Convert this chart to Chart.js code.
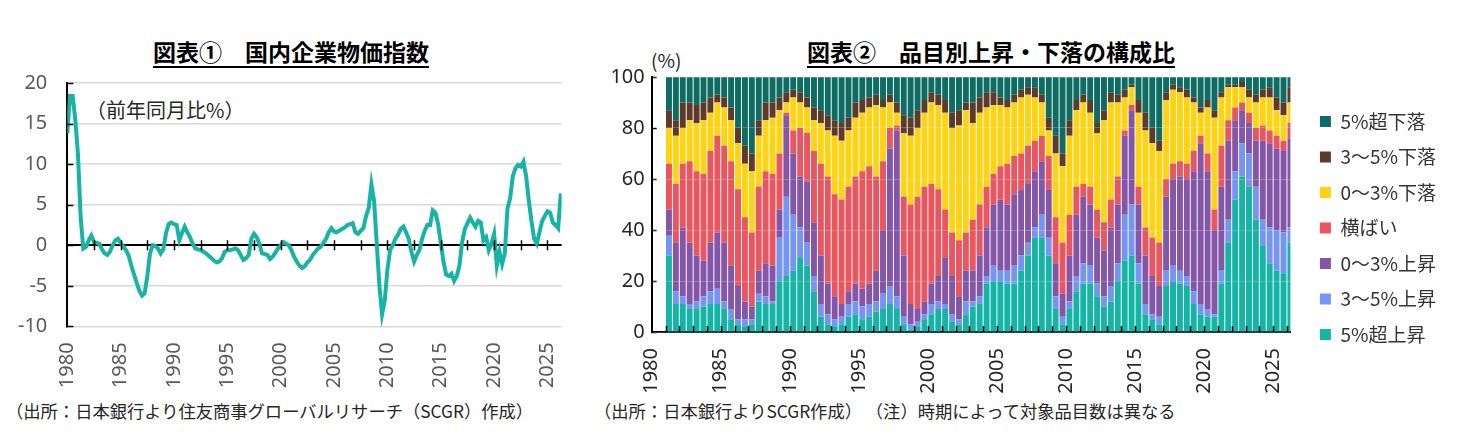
<!DOCTYPE html>
<html><head><meta charset="utf-8">
<script src="https://cdn.jsdelivr.net/npm/chart.js@4.4.0/dist/chart.umd.min.js"></script>
<style>
html,body{margin:0;padding:0;background:#fff;}
body{width:1471px;height:438px;position:relative;overflow:hidden;font-family:"Noto Sans CJK JP",sans-serif;}
.title{position:absolute;top:34px;font-weight:bold;font-size:23px;color:#000;text-decoration:underline;text-underline-offset:5px;text-decoration-thickness:2px;white-space:nowrap;transform:translateX(-50%);}
.note{position:absolute;top:398px;font-size:17.3px;color:#262626;white-space:nowrap;}
.ann{position:absolute;color:#262626;white-space:nowrap;}
canvas{position:absolute;}
</style></head><body>
<div class="title" style="left:291px">図表①　国内企業物価指数</div>
<div class="title" style="left:991px">図表②　品目別上昇・下落の構成比</div>
<div class="ann" style="left:86px;top:95px;font-size:20px">（前年同月比%）</div>
<div class="ann" style="left:651px;top:46px;font-size:19px">(%)</div>
<canvas id="c1" width="580" height="340" style="left:0;top:51.3px"></canvas>
<canvas id="c2" width="881" height="340" style="left:590px;top:58px"></canvas>
<div class="note" style="left:6px">（出所：日本銀行より住友商事グローバルリサーチ（SCGR）作成）</div>
<div class="note" style="left:594px">（出所：日本銀行よりSCGR作成） （注）時期によって対象品目数は異なる</div>
<script>
// ---- Chart 1: domestic corporate goods price index, YoY %, quarterly readings from 1980Q1
const cgpiStartYear = 1980;
const cgpiYoY = [
 13.8,18.4,18.4,15.5, 11.2,3.5,-0.4,-0.2, 0.6,1.2,0.4,0.3, 0.2,-0.5,-1.0,-1.2,
 -0.8,0.0,0.6,0.8, 0.3,-0.2,-0.6,-1.3, -2.5,-3.6,-4.6,-5.6, -6.2,-5.9,-3.8,-1.0,
 0.0,-0.1,-0.4,-1.0, -0.5,1.5,2.6,2.8, 2.6,2.5,0.6,1.5, 2.3,1.6,1.0,0.2,
 -0.4,-0.5,-0.6,-0.8, -1.0,-1.3,-1.6,-1.9, -2.1,-2.0,-1.6,-0.8, -0.6,-0.6,-0.5,-0.4,
 -0.6,-1.2,-1.8,-1.6, -1.2,0.8,1.4,1.0, 0.2,-1.0,-1.1,-1.2, -1.7,-1.4,-0.9,-0.4,
 0.0,0.4,0.2,0.0, -0.6,-1.4,-2.0,-2.5, -2.8,-2.6,-2.1,-1.8, -1.2,-0.8,-0.4,-0.2,
 0.3,0.8,1.6,2.1, 1.7,1.6,1.8,2.0, 2.2,2.5,2.6,2.7, 1.6,1.4,1.8,2.1,
 3.6,4.6,7.5,5.5, 0.2,-5.0,-8.5,-6.8, -3.0,-0.6,0.0,0.8, 1.3,2.0,2.3,1.6,
 0.8,-0.8,-2.0,-1.2, -0.6,0.8,1.8,2.5, 2.5,4.3,4.0,2.6, 0.3,-2.0,-3.6,-3.8,
 -3.5,-4.4,-3.8,-2.5, 0.4,2.0,2.7,3.4, 2.8,2.3,3.0,2.8, 0.6,1.0,-0.6,0.2,
 1.4,-2.5,-0.8,-2.3, -1.0,4.5,5.8,8.5, 9.5,9.9,9.7,10.3, 8.5,5.5,3.0,0.8,
 0.2,1.6,3.0,3.6, 4.2,4.0,2.8,2.5, 2.1,6.4
];
const cgpiYTicks = [-10,-5,0,5,10,15,20];

// ---- Chart 2: share of items by price change (%), half-year readings from 1981H1
const compFirstYear = 1981;
const seriesNames = ['5%超上昇','3～5%上昇','0～3%上昇','横ばい','0～3%下落','3～5%下落','5%超下落'];
const seriesColors = ['#15B4A5','#7595F3','#8356A7','#E9565F','#FFD314','#5E3A29','#0F6C62'];
const up5 = [30,11,11,9,9,10,11,11,9,5, 3,2,3,12,11,11,20,22,24,29, 26,16,6,3,2,3,6,7,5,6, 8,9,11,9,3,1,2,5,7,9,
 9,4,3,7,10,11,19,20,20,19, 19,24,30,37,37,30,9,3,9,16, 19,19,14,10,12,20,28,30,19,7, 5,3,18,20,19,18,11,7,6,6,
 19,35,52,61,57,44,34,27,24,23, 35];
const up3to5 = [8,5,3,2,3,4,5,6,3,4, 2,3,2,3,3,1,17,31,22,12, 9,6,5,4,3,3,5,5,5,5, 4,6,7,5,3,2,2,2,4,3,
 2,3,2,5,2,3,3,6,4,5, 7,6,5,4,9,7,5,3,3,6, 8,7,5,4,6,7,18,20,8,4, 2,3,6,6,5,4,5,4,3,1,
 5,9,11,13,13,13,10,14,16,16, 6];
const up0to3 = [10,19,27,24,18,14,19,22,23,17, 13,7,5,9,13,14,11,32,24,20, 24,21,19,12,9,5,5,7,7,8, 12,25,54,65,24,8,5,5,8,10,
 18,15,9,12,12,16,19,24,28,26, 28,26,23,22,21,19,13,9,18,24, 26,24,18,18,23,23,31,37,23,19, 15,12,29,34,37,38,47,63,54,33,
 33,31,20,13,12,18,31,33,32,32, 35];
const flat = [18,23,25,32,33,34,36,38,38,41, 38,33,29,33,36,36,22,1,9,19, 19,28,36,42,40,41,41,42,46,46, 37,27,8,2,23,39,44,45,39,34,
 19,17,22,15,20,20,16,12,13,16, 15,14,15,12,10,13,18,20,16,11, 5,7,11,11,11,11,2,2,7,11, 15,17,7,6,6,6,8,3,7,8,
 16,8,5,3,4,5,6,5,5,4, 6];
const down0to3 = [14,19,14,16,19,21,15,13,15,16, 18,21,24,20,20,22,17,4,13,10, 10,12,16,18,23,23,22,23,23,23, 28,21,10,5,25,27,27,29,32,33,
 38,41,45,48,38,36,31,27,24,22, 21,22,20,17,13,10,25,30,31,30, 32,29,30,40,38,29,13,7,29,38, 37,36,31,29,27,26,19,9,18,36,
 19,13,8,6,6,10,11,13,10,10, 8];
const down3to5 = [7,6,10,7,7,7,6,3,4,5, 6,7,7,6,7,6,5,4,3,4, 4,5,5,6,6,7,5,6,5,4, 4,3,3,4,7,7,7,5,4,4,
 5,6,6,3,8,6,6,5,3,3, 3,3,3,4,3,5,7,5,6,4, 3,5,4,4,4,3,3,1,5,7, 6,4,3,2,2,3,2,2,3,3,
 2,1,1,2,3,3,3,4,5,5, 6];
const down5 = [13,17,10,10,11,10,8,7,8,12, 20,27,30,17,10,10,8,6,5,6, 8,12,13,15,17,18,16,10,9,8, 7,9,7,10,15,16,13,9,6,7,
 9,14,13,10,10,8,6,6,8,9, 7,5,4,4,7,16,23,30,17,9, 7,9,18,13,6,7,5,3,9,14, 20,25,6,3,4,5,8,12,9,13,
 6,3,3,2,5,7,5,4,8,10, 4];
const compYTicks = [0,10,20,30,40,50,60,70,80,90,100];
const yearLabels = [1980,1985,1990,1995,2000,2005,2010,2015,2020,2025];

// ---- helpers
const tickFont = {family:'"Noto Sans", "DejaVu Sans", sans-serif', size:20};
const innerTicks = {
  id:'innerTicks',
  afterDatasetsDraw(chart, args, o){
    if(!o || !o.on) return;
    const ctx = chart.ctx, xs = chart.scales.x, ys = chart.scales.y;
    ctx.save(); ctx.strokeStyle = '#000'; ctx.lineWidth = 1.5;
    ys.ticks.forEach(t => {
      const py = Math.round(ys.getPixelForValue(t.value)) + 0.5;
      ctx.beginPath(); ctx.moveTo(xs.left, py); ctx.lineTo(xs.left + o.yLen, py); ctx.stroke();
    });
    const base = o.xAtZero ? ys.getPixelForValue(0) : ys.bottom;
    xs.ticks.forEach(t => {
      const k = t.value / o.xStep;
      if (Math.abs(k - Math.round(k)) > 1e-6 || t.value <= xs.min) return;
      const px = Math.round(xs.getPixelForValue(t.value)) + 0.5;
      ctx.beginPath(); ctx.moveTo(px, base - o.xUp); ctx.lineTo(px, base + o.xDown); ctx.stroke();
    });
    ctx.restore();
  }
};
Chart.register(innerTicks);
const spacer = (dim, size) => ({display:true, grid:{display:false}, border:{display:false}, ticks:{display:false},
  afterFit:s => { s[dim] = size; }});

// ---- chart 1
const cgpiPoints = cgpiYoY.map((v,i) => ({x: cgpiStartYear + i/4, y: v}));
new Chart(document.getElementById('c1'), {
  type:'line',
  data:{datasets:[{label:'国内企業物価指数（前年同月比%）', data:cgpiPoints, borderColor:'#17B3A5', borderWidth:4, pointRadius:0, tension:0, fill:false}]},
  options:{
    responsive:false, animation:false, devicePixelRatio:1,
    layout:{padding:{left:0,right:18,top:0,bottom:0}},
    plugins:{legend:{display:false}, tooltip:{enabled:false}, innerTicks:{on:true, yLen:6, xStep:2.5, xAtZero:true, xUp:5, xDown:5}},
    scales:{
      x:{type:'linear', min:1980, max:2026.33,
         grid:{display:false}, border:{display:false},
         ticks:{stepSize:2.5, includeBounds:false, autoSkip:false, minRotation:90, maxRotation:90, padding:8, color:'#595959', font:tickFont,
                callback:v => yearLabels.includes(v) ? String(v) : ''},
         afterFit:s => { s.height = 64.6; }},
      y:{min:-10, max:20,
         afterBuildTicks:s => { s.ticks = cgpiYTicks.map(v => ({value:v})); },
         grid:{drawTicks:false, lineWidth:c => c.tick && c.tick.value === 0 ? 2 : 1.5, color:c => c.tick && c.tick.value === 0 ? '#000' : '#d9d9d9'},
         border:{display:true, color:'#000', width:2},
         ticks:{padding:20, color:'#595959', font:tickFont},
         afterFit:s => { s.width = 67.3; }}
    }
  }
});

// ---- chart 2
const compPeriods = up5.map((_,i) => compFirstYear + Math.floor(i/2) + (i % 2 ? 0.75 : 0.25));
const compSeries = [up5, up3to5, up0to3, flat, down0to3, down3to5, down5];
new Chart(document.getElementById('c2'), {
  type:'bar',
  data:{datasets: compSeries.map((arr,k) => ({
    label: seriesNames[k], backgroundColor: seriesColors[k], borderWidth:0,
    data: arr.map((v,i) => ({x: compPeriods[i], y: v})),
    categoryPercentage:0.86, barPercentage:1
  }))},
  options:{
    responsive:false, animation:false, devicePixelRatio:1,
    layout:{padding:{left:0,right:25,top:0,bottom:0}},
    plugins:{
      tooltip:{enabled:false},
      innerTicks:{on:true, yLen:5, xStep:1, xAtZero:false, xUp:6, xDown:0},
      legend:{position:'right', align:'center', reverse:true,
        labels:{boxWidth:11, boxHeight:11, padding:16.5, color:'#333', font:{family:'"Noto Sans CJK JP", sans-serif', size:19}}}
    },
    scales:{
      x:{type:'linear', stacked:true, offset:false, min:1980, max:2026.25,
         grid:{display:false}, border:{display:true, color:'#000', width:2},
         ticks:{stepSize:1, includeBounds:false, autoSkip:false, minRotation:90, maxRotation:90, padding:8, color:'#262626', font:tickFont,
                callback:v => yearLabels.includes(v) ? String(v) : ''},
         afterFit:s => { s.height = 66; }},
      y:{stacked:true, min:0, max:100,
         afterBuildTicks:s => { s.ticks = compYTicks.map(v => ({value:v})); },
         grid:{drawTicks:false, color:'rgba(255,255,255,0.22)', lineWidth:1, z:1},
         border:{display:true, color:'#000', width:2, z:1},
         ticks:{padding:7, color:'#262626', font:tickFont},
         afterFit:s => { s.width = 61.7; }},
      yGap:Object.assign({type:'linear', position:'right'}, spacer('width', 13))
    }
  }
});
</script>
</body></html>
